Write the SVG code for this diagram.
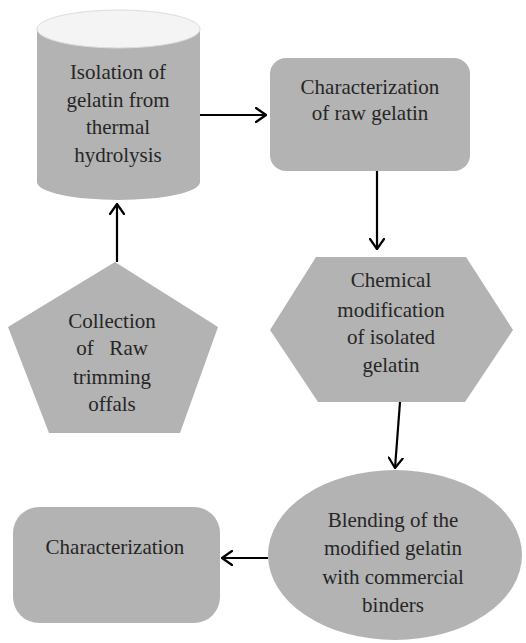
<svg xmlns="http://www.w3.org/2000/svg" width="526" height="643" viewBox="0 0 526 643">
<defs>
<style>
.shape{fill:#b3b3b3;stroke:none}
.t{font-size:21px;fill:#262626;text-anchor:middle}
.c{stroke:#000;stroke-width:2.2;fill:none}
.ah{stroke:#000;stroke-width:2.2;fill:none;stroke-linecap:round;stroke-linejoin:round}
</style>
<marker id="arr" viewBox="0 0 12 16" refX="11" refY="8" markerWidth="12" markerHeight="16" markerUnits="userSpaceOnUse" orient="auto">
<path d="M1,1 L11,8 L1,15" class="ah"/>
</marker>
</defs>
<rect width="526" height="643" fill="#fff"/>
<g font-family="'Liberation Serif', 'Times New Roman', 'DejaVu Serif', serif">
<g id="n1">
<path class="shape" d="M37,29 L37,182 A81.5,18 0 0 0 200,182 L200,29 Z"/>
<ellipse cx="118.5" cy="29" rx="81.5" ry="19" fill="#f4f4f4" stroke="#dcdcdc" stroke-width="1"/>
<text class="t" x="118" y="79">Isolation of</text>
<text class="t" x="118" y="107">gelatin from</text>
<text class="t" x="118" y="134">thermal</text>
<text class="t" x="118" y="162">hydrolysis</text>
</g>
<g id="n2">
<rect class="shape" x="270" y="58" width="200" height="113" rx="16"/>
<text class="t" x="370" y="94">Characterization</text>
<text class="t" x="370" y="120">of raw gelatin</text>
</g>
<g id="n3">
<polygon class="shape" points="316,257 466,257 513,330 465,402 318,402 270,330"/>
<text class="t" x="391" y="287">Chemical</text>
<text class="t" x="391" y="317">modification</text>
<text class="t" x="391" y="344">of isolated</text>
<text class="t" x="391" y="372">gelatin</text>
</g>
<g id="n4">
<polygon class="shape" points="115,262 218,327 180,433 49,433 8,327"/>
<text class="t" x="112" y="328">Collection</text>
<text class="t" x="112" y="355" xml:space="preserve">of   Raw</text>
<text class="t" x="112" y="384">trimming</text>
<text class="t" x="112" y="411">offals</text>
</g>
<g id="n5">
<ellipse class="shape" cx="395" cy="555" rx="127" ry="85"/>
<text class="t" x="393" y="527">Blending of the</text>
<text class="t" x="393" y="555">modified gelatin</text>
<text class="t" x="393" y="584">with commercial</text>
<text class="t" x="393" y="612">binders</text>
</g>
<g id="n6">
<rect class="shape" x="13" y="507" width="207" height="116" rx="26"/>
<text class="t" x="115" y="554">Characterization</text>
</g>
</g>
<g id="connectors">
<line class="c" x1="200" y1="115" x2="266" y2="115" marker-end="url(#arr)"/>
<line class="c" x1="377" y1="171" x2="377" y2="249" marker-end="url(#arr)"/>
<line class="c" x1="117" y1="262" x2="117" y2="204" marker-end="url(#arr)"/>
<line class="c" x1="400" y1="402" x2="395" y2="468" marker-end="url(#arr)"/>
<line class="c" x1="268" y1="558" x2="222" y2="558" marker-end="url(#arr)"/>
</g>
</svg>
